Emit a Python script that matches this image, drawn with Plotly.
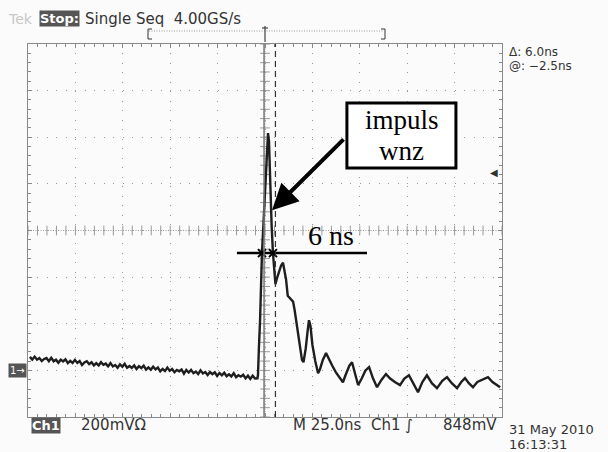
import plotly.graph_objects as go

# ---------------- data (read from the screen) ----------------
# time in ns (25 ns/div, trigger at 0), voltage in mV (200 mV/div, ground at 0)
base_t = [-124, -122.75, -121.5, -120.25, -119, -117.75, -116.5, -115.25, -114, -112.75,
          -111.5, -110.25, -109, -107.75, -106.5, -105.25, -104, -102.75, -101.5, -100.25,
          -99, -97.75, -96.5, -95.25, -94, -92.75, -91.5, -90.25, -89, -87.75,
          -86.5, -85.25, -84, -82.75, -81.5, -80.25, -79, -77.75, -76.5, -75.25,
          -74, -72.75, -71.5, -70.25, -69, -67.75, -66.5, -65.25, -64, -62.75,
          -61.5, -60.25, -59, -57.75, -56.5, -55.25, -54, -52.75, -51.5, -50.25,
          -49, -47.75, -46.5, -45.25, -44, -42.75, -41.5, -40.25, -39, -37.75,
          -36.5, -35.25, -34, -32.75, -31.5, -30.25, -29, -27.75, -26.5, -25.25,
          -24, -22.75, -21.5, -20.25, -19, -17.75, -16.5, -15.25, -14, -12.75,
          -11.5, -10.25, -9, -7.75, -6.5, -5.25, -4]
base_v = [58, 46, 59, 46, 53, 40, 49, 53, 39, 54,
          39, 46, 33, 46, 38, 47, 31, 41, 32, 45,
          32, 40, 23, 34, 39, 27, 35, 21, 31, 21,
          35, 24, 29, 17, 31, 17, 23, 11, 26, 16,
          28, 11, 19, 11, 21, 6, 18, 10, 20, 3,
          13, 3, 16, 4, 12, -4, 6, -3, 12, -2,
          6, -8, 2, -4, 4, -14, 2, -9, 2, -12,
          -5, -16, 0, -13, -7, -20, -7, -16, -8, -24,
          -11, -21, -10, -25, -17, -26, -12, -29, -21, -27,
          -19, -34, -23, -37, -23, -35, -34]
pulse_t = [-3.7, -3.2, -2.6, -1.6, 0.0, 1.6, 2.1, 2.7, 3.5, 4.2,
           5.0, 5.5, 6.3, 7.5, 8.5, 9.5, 10.3, 11.1, 12.0, 12.8,
           13.8, 14.8, 15.6, 16.4, 17.5, 18.5, 19.5, 20.3, 21.5, 22.5,
           23.2, 24.0, 25.0, 26.5, 28.0, 29.0, 30.5, 32.2, 33.5, 35.5,
           37.5, 39.5, 41.1, 42.5, 44.5, 45.9, 47.5, 49.1, 51.0, 53.0,
           54.9, 57.0, 59.1, 61.5, 63.8, 66.0, 68.5, 71.2, 73.5, 75.9,
           78.5, 80.7, 83.0, 85.4, 88.0, 90.7, 93.5, 96.0, 98.5, 101.3,
           103.5, 105.5, 107.5, 109.7, 112.0, 114.5, 117.6, 120.0, 122.0, 124.0]
pulse_v = [-20, 100, 215, 503, 773, 1018, 985, 800, 620, 503,
           400, 370, 395, 425, 450, 462, 430, 390, 320, 312,
           300, 295, 260, 215, 150, 90, 45, 35, 95, 170,
           215, 190, 110, 40, -12, 5, 45, 74, 55, 20,
           -10, -35, -51, -20, 20, 35, -15, -63, -35, 0,
           14, -35, -72, -40, -16, -35, -50, -63, -35, -21,
           -60, -94, -50, -21, -55, -76, -45, -29, -55, -76,
           -50, -33, -55, -72, -50, -40, -29, -50, -60, -72]

cursor_t = [-0.5, 5.5]           # cursor positions (ns)
width_line_t = [-14.8, 53.8]     # "6 ns" marker line
width_line_v = 503
trigger_level_mv = 848

time_ns = base_t + pulse_t
volt_mv = base_v + pulse_v

# ---------------- geometry helpers ----------------
W, H = 608, 452
L, R, T, B = 28, 502, 44, 417


def px(x):
    return (x - L) / (R - L)


def py(y):
    return (B - y) / (B - T)


GRID = "#9a9a9a"
FRAME = "#8a8a8a"
TXT = "#333333"
MONO = "DejaVu Sans"
SERIF = "Liberation Serif"

fig = go.Figure()

# centre cross-hair ticks
fig.add_trace(go.Scatter(
    x=[t for t in range(-125, 126, 5)], y=[600] * 51, mode="markers",
    marker=dict(symbol="line-ns", size=7, line=dict(color=GRID, width=1)),
    hoverinfo="skip", showlegend=False))
fig.add_trace(go.Scatter(
    x=[0] * 41, y=[v for v in range(-200, 1401, 40)], mode="markers",
    marker=dict(symbol="line-ew", size=7, line=dict(color=GRID, width=1)),
    hoverinfo="skip", showlegend=False))

# waveform
fig.add_trace(go.Scatter(
    x=time_ns, y=volt_mv, mode="lines",
    line=dict(color="#1e1e1e", width=2.4),
    hoverinfo="skip", showlegend=False))

# "6 ns" horizontal line
fig.add_trace(go.Scatter(
    x=width_line_t, y=[width_line_v, width_line_v], mode="lines",
    line=dict(color="black", width=2.5), hoverinfo="skip", showlegend=False))
fig.add_trace(go.Scatter(
    x=[-1.6, 4.2], y=[width_line_v, width_line_v], mode="markers",
    marker=dict(symbol="x-thin", size=8, line=dict(color="black", width=2)),
    hoverinfo="skip", showlegend=False))

shapes = []
# centre lines (dense dotted)
shapes.append(dict(type="line", xref="x", yref="y", x0=-125, x1=125, y0=600, y1=600,
                   line=dict(color=GRID, width=1, dash="1px,1.5px"), layer="below"))
shapes.append(dict(type="line", xref="x", yref="y", x0=0, x1=0, y0=-200, y1=1400,
                   line=dict(color=GRID, width=1, dash="1px,1.5px"), layer="below"))
# cursors
shapes.append(dict(type="line", xref="x", yref="y", x0=cursor_t[0], x1=cursor_t[0],
                   y0=-200, y1=1400, line=dict(color="#777777", width=1.5)))
shapes.append(dict(type="line", xref="x", yref="y", x0=cursor_t[1], x1=cursor_t[1],
                   y0=-200, y1=1400, line=dict(color="#333333", width=1.2, dash="6px,4px")))
# annotation box
shapes.append(dict(type="rect", xref="x", yref="y", x0=43.2, x1=100.7, y0=868, y1=1147,
                   line=dict(color="black", width=3), fillcolor="white"))
# top record bracket
shapes.append(dict(type="line", xref="paper", yref="paper", x0=px(149), x1=px(384),
                   y0=py(31), y1=py(31), line=dict(color="#999999", width=1, dash="1px,1.5px")))
for bx, hx in [(148, 152), (385, 381)]:
    shapes.append(dict(type="line", xref="paper", yref="paper", x0=px(bx), x1=px(bx),
                       y0=py(29), y1=py(39), line=dict(color="#555555", width=1.2)))
    shapes.append(dict(type="line", xref="paper", yref="paper", x0=px(bx), x1=px(hx),
                       y0=py(29), y1=py(29), line=dict(color="#555555", width=1.2)))
    shapes.append(dict(type="line", xref="paper", yref="paper", x0=px(bx), x1=px(hx),
                       y0=py(39), y1=py(39), line=dict(color="#555555", width=1.2)))
# trigger position marker
shapes.append(dict(type="line", xref="paper", yref="paper", x0=px(265), x1=px(265),
                   y0=py(26), y1=py(42), line=dict(color="#444444", width=1.2)))
shapes.append(dict(type="line", xref="paper", yref="paper", x0=px(262), x1=px(268),
                   y0=py(28), y1=py(28), line=dict(color="#444444", width=1.2)))

annotations = []
# arrow
annotations.append(dict(x=3.7, y=687, ax=42.2, ay=997, xref="x", yref="y",
                        axref="x", ayref="y", text="", showarrow=True,
                        arrowhead=2, arrowsize=1.3, arrowwidth=4, arrowcolor="black"))
annotations.append(dict(x=72, y=1075, xref="x", yref="y", text="impuls", showarrow=False,
                        font=dict(family=SERIF, size=27, color="black")))
annotations.append(dict(x=72, y=940, xref="x", yref="y", text="wnz", showarrow=False,
                        font=dict(family=SERIF, size=27, color="black")))
annotations.append(dict(x=34.8, y=580, xref="x", yref="y", text="6 ns", showarrow=False,
                        font=dict(family=SERIF, size=28, color="black")))

# top status line
annotations.append(dict(x=px(6), y=py(19), xref="paper", yref="paper", xanchor="left",
                        yanchor="middle", text="Tek", showarrow=False,
                        font=dict(family=MONO, size=14, color="#c8c8c8")))
annotations.append(dict(x=px(39), y=py(19), xref="paper", yref="paper", xanchor="left",
                        yanchor="middle", text="<b>Stop:</b>", showarrow=False,
                        bgcolor="#555555", borderpad=0,
                        font=dict(family=MONO, size=13, color="white")))
annotations.append(dict(x=px(83), y=py(19), xref="paper", yref="paper", xanchor="left",
                        yanchor="middle", text="Single Seq&nbsp;&nbsp;4.00GS/s", showarrow=False,
                        font=dict(family=MONO, size=15, color=TXT)))
# right readouts
annotations.append(dict(x=px(507), y=py(52), xref="paper", yref="paper", xanchor="left",
                        yanchor="middle", text="\u0394: 6.0ns", showarrow=False,
                        font=dict(family=MONO, size=12, color=TXT)))
annotations.append(dict(x=px(507), y=py(66), xref="paper", yref="paper", xanchor="left",
                        yanchor="middle", text="@: \u22122.5ns", showarrow=False,
                        font=dict(family=MONO, size=12, color=TXT)))
# trigger level marker
annotations.append(dict(x=px(494), y=trigger_level_mv, xref="paper", yref="y",
                        xanchor="center", yanchor="middle", text="\u25c0", showarrow=False,
                        font=dict(family=MONO, size=10, color="#333333")))
# ground marker
annotations.append(dict(x=px(8), y=0, xref="paper", yref="y", xanchor="left",
                        yanchor="middle", text="1\u2192", showarrow=False,
                        bgcolor="#555555", borderpad=1,
                        font=dict(family=MONO, size=10, color="white")))
# bottom status line
annotations.append(dict(x=px(31), y=py(425), xref="paper", yref="paper", xanchor="left",
                        yanchor="middle", text="<b>Ch1</b>", showarrow=False,
                        bgcolor="#555555", borderpad=0,
                        font=dict(family=MONO, size=13, color="white")))
annotations.append(dict(x=px(79), y=py(425), xref="paper", yref="paper", xanchor="left",
                        yanchor="middle", text="200mV\u03a9", showarrow=False,
                        font=dict(family=MONO, size=15, color=TXT)))
annotations.append(dict(x=px(291), y=py(425), xref="paper", yref="paper", xanchor="left",
                        yanchor="middle", text="M 25.0ns&nbsp;&nbsp;Ch1 \u222b", showarrow=False,
                        font=dict(family=MONO, size=15, color=TXT)))
annotations.append(dict(x=px(499), y=py(425), xref="paper", yref="paper", xanchor="right",
                        yanchor="middle", text="848mV", showarrow=False,
                        font=dict(family=MONO, size=15, color=TXT)))
annotations.append(dict(x=px(507), y=py(429), xref="paper", yref="paper", xanchor="left",
                        yanchor="middle", text="31 May 2010", showarrow=False,
                        font=dict(family=MONO, size=13, color=TXT)))
annotations.append(dict(x=px(507), y=py(444), xref="paper", yref="paper", xanchor="left",
                        yanchor="middle", text="16:13:31", showarrow=False,
                        font=dict(family=MONO, size=13, color=TXT)))

axis_common = dict(showgrid=True, gridcolor=GRID, griddash="1px,8.48px", gridwidth=1,
                   showline=True, linecolor=FRAME, linewidth=1, mirror="ticks",
                   ticks="inside", ticklen=4, tickcolor=FRAME, showticklabels=False,
                   zeroline=False, fixedrange=True)
fig.update_xaxes(range=[-125, 125], dtick=25, tick0=0,
                 minor=dict(dtick=5, tick0=0, ticks="inside", ticklen=3,
                            tickcolor=FRAME, showgrid=False),
                 **axis_common)
fig.update_yaxes(range=[-200, 1400], dtick=200, tick0=0,
                 minor=dict(dtick=40, tick0=0, ticks="inside", ticklen=3,
                            tickcolor=FRAME, showgrid=False),
                 **axis_common)

fig.update_layout(width=W, height=H, margin=dict(l=L, r=W - R, t=T, b=H - B),
                  paper_bgcolor="#fbfbfb", plot_bgcolor="#fbfbfb",
                  shapes=shapes, annotations=annotations, showlegend=False)

fig.write_html("out.html", config={"displayModeBar": False},
               post_script="document.body.style.margin='0';document.body.style.padding='0';"
                           "document.body.style.overflow='hidden';")
